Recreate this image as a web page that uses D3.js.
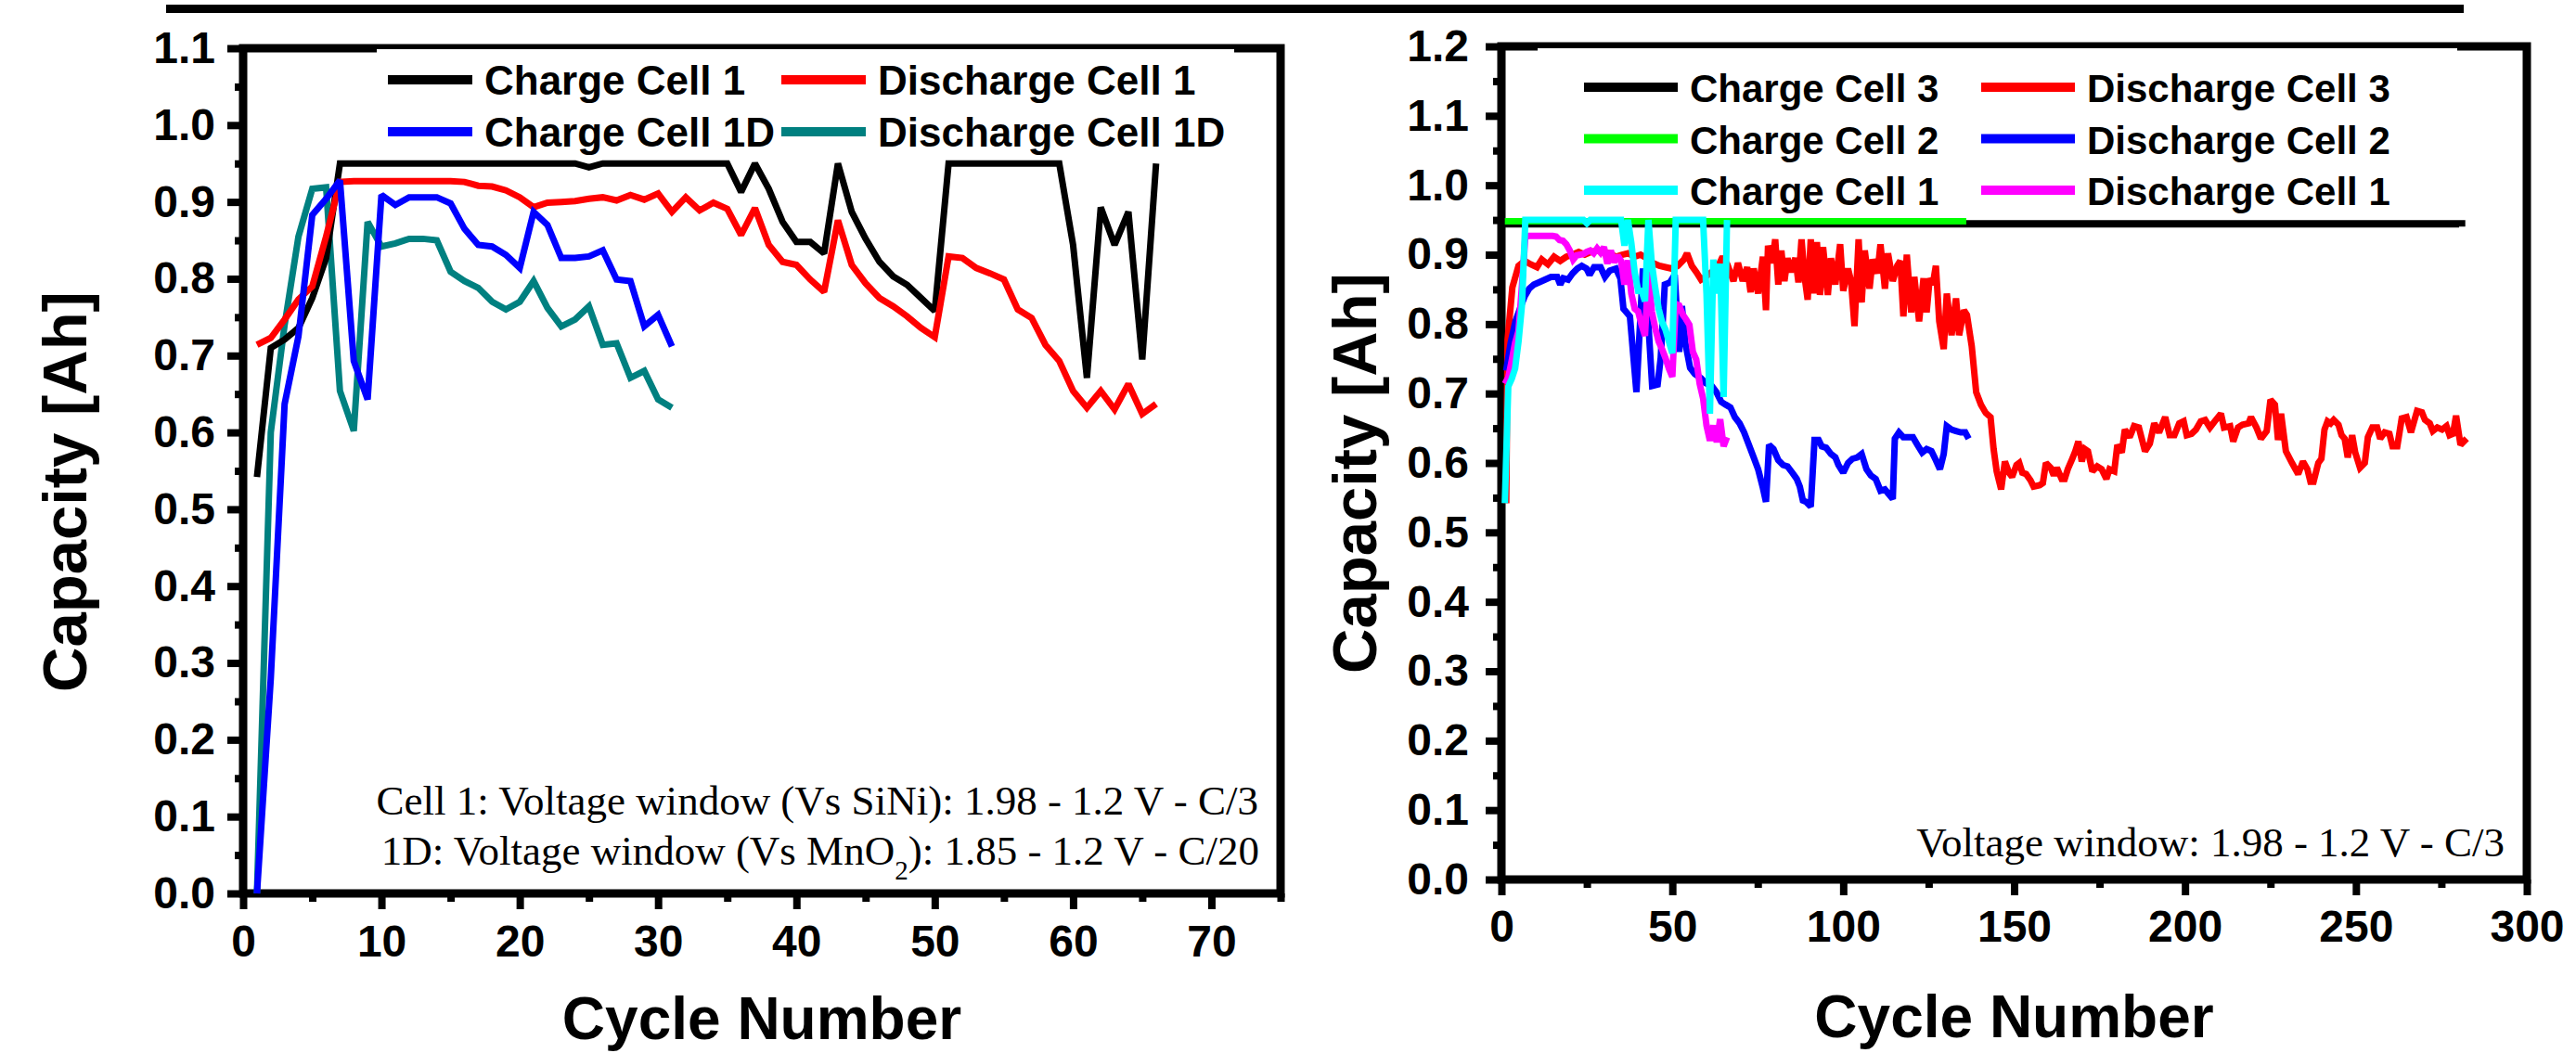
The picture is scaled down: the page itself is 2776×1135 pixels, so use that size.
<!DOCTYPE html>
<html>
<head>
<meta charset="utf-8">
<script src="https://cdn.jsdelivr.net/npm/d3@7"></script>
<style>
  body { margin: 0; background: #fff; }
  svg { display: block; }
  .bold { font-family: "Liberation Sans", Arial, sans-serif; font-weight: bold; }
  .serif { font-family: "Liberation Serif", "Times New Roman", serif; }
</style>
</head>
<body>
<svg id="chart" width="2776" height="1135"></svg>
<script>

/// Data

// Cell 1, one value per cycle starting at cycle 1 (used in both panels)
var cell1Charge = [0.542, 0.71, 0.721, 0.736, 0.775, 0.827,
  0.95, 0.95, 0.95, 0.95, 0.95, 0.95, 0.95, 0.95, 0.95, 0.95, 0.95, 0.95, 0.95, 0.95, 0.95, 0.95, 0.95, 0.95,
  0.945, 0.95, 0.95, 0.95, 0.95, 0.95, 0.95, 0.95, 0.95, 0.95, 0.95,
  0.913, 0.95, 0.917, 0.874, 0.848, 0.848, 0.833, 0.95, 0.887, 0.852, 0.822, 0.803, 0.792, 0.775, 0.758,
  0.95, 0.95, 0.95, 0.95, 0.95, 0.95, 0.95, 0.95, 0.95,
  0.844, 0.671, 0.893, 0.844, 0.887, 0.695, 0.95];

var cell1Discharge = [0.714, 0.723, 0.747, 0.773, 0.79, 0.855, 0.926, 0.927, 0.927, 0.927,
  0.927, 0.927, 0.927, 0.927, 0.927, 0.926, 0.921, 0.92, 0.915, 0.906,
  0.893, 0.899, 0.9, 0.901, 0.904, 0.906, 0.902, 0.909, 0.903, 0.911,
  0.887, 0.906, 0.889, 0.899, 0.891, 0.857, 0.892, 0.844, 0.822, 0.818,
  0.799, 0.783, 0.876, 0.818, 0.794, 0.775, 0.764, 0.751, 0.736, 0.724,
  0.829, 0.827, 0.814, 0.807, 0.799, 0.76, 0.749, 0.714, 0.693, 0.654,
  0.632, 0.654, 0.63, 0.663, 0.624, 0.637];

// Cell 1D, one value per cycle starting at cycle 1
var cell1DCharge = [0, 0.28, 0.637, 0.725, 0.883, 0.904, 0.928, 0.693, 0.643, 0.909,
  0.896, 0.906, 0.906, 0.906, 0.898, 0.865, 0.844, 0.842, 0.831, 0.814,
  0.887, 0.87, 0.827, 0.827, 0.829, 0.837, 0.799, 0.797, 0.738, 0.753, 0.712];

var cell1DDischarge = [0, 0.60, 0.74, 0.855, 0.917, 0.919, 0.654, 0.602, 0.874, 0.842,
  0.846, 0.852, 0.852, 0.85, 0.809, 0.797, 0.788, 0.77, 0.76, 0.77,
  0.797, 0.762, 0.738, 0.747, 0.764, 0.714, 0.716, 0.671, 0.68, 0.643, 0.632];

// Cells 2 and 3: cycle numbers and values at the line's turning points
var cell3ChargeCycles = [1, 282];
var cell3ChargeValues = [0.945, 0.945];

var cell2ChargeCycles = [1, 136];
var cell2ChargeValues = [0.948, 0.948];

var cell3DischargeCycles = [1.4, 1.8, 3.2, 5.0, 6.8, 8.6, 10.4, 11.8, 13.6, 15.4, 17.2, 19.0, 20.8, 22.6, 24.4,
  26.2, 28.0, 29.9, 31.7, 33.5, 35.3, 37.1, 38.9, 40.7, 42.5, 44.3, 46.2, 48.0, 49.8, 51.6,
  53.4, 54.3, 55.7, 57.0, 58.4, 59.7, 61.5, 63.3, 64.7, 66.1, 67.9, 69.2, 70.6, 71.9, 72.9,
  73.8, 75.1, 76.5, 77.4, 78.0, 79.2, 80.1, 81.0, 81.9, 82.8, 83.7, 84.6, 86.0, 86.9, 87.8,
  88.7, 89.6, 90.5, 91.4, 92.3, 93.2, 94.1, 95.5, 96.4, 97.7, 99.1, 100.0, 101.4, 102.3, 103.3,
  104.5, 105.4, 106.3, 107.7, 108.6, 110.0, 110.9, 112.2, 113.1, 114.5, 115.8, 116.7, 117.6, 118.6, 119.9,
  120.8, 122.2, 123.5, 124.4, 125.3, 126.2, 127.1, 128.1, 129.4, 130.3, 131.7, 133.0, 133.9, 135.3, 136.2,
  137.6, 138.9, 140.3, 141.7, 143.1, 144.0, 144.9, 146.2, 147.3, 148.5, 149.4, 150.7, 151.5, 152.4, 153.5,
  154.8, 155.7, 157.5, 158.4, 159.3, 160.7, 161.6, 162.5, 163.9, 164.8, 165.7, 167.0, 167.9, 168.8, 169.8,
  170.7, 171.6, 172.9, 174.3, 175.6, 177.0, 177.9, 179.3, 180.2, 181.5, 182.4, 183.8, 185.1, 186.5, 188.3,
  189.7, 191.0, 192.4, 194.2, 195.5, 196.9, 198.3, 199.6, 200.5, 201.9, 203.2, 204.6, 205.9, 207.3, 208.7,
  210.5, 211.4, 213.2, 214.1, 215.5, 216.8, 218.6, 219.3, 220.9, 222.2, 223.9, 225.0, 226.3, 227.2, 228.1,
  229.5, 231.3, 233.1, 234.5, 235.8, 236.7, 237.6, 239.0, 239.9, 240.8, 241.7, 242.6, 243.5, 244.9, 245.8,
  246.7, 247.6, 248.9, 249.8, 251.2, 252.6, 253.5, 254.8, 256.2, 257.1, 258.4, 259.8, 260.7, 262.1, 263.4,
  264.8, 266.1, 267.9, 269.3, 270.2, 271.6, 272.5, 273.8, 275.2, 276.5, 277.4, 278.4, 279.3, 280.6, 282.4];
var cell3DischargeValues = [0.542, 0.777, 0.853, 0.884, 0.891, 0.886, 0.882, 0.893, 0.886, 0.897, 0.891, 0.897, 0.900, 0.904, 0.900,
  0.904, 0.906, 0.904, 0.902, 0.897, 0.900, 0.902, 0.897, 0.900, 0.895, 0.888, 0.884, 0.882, 0.880, 0.884,
  0.893, 0.902, 0.884, 0.875, 0.864, 0.868, 0.875, 0.882, 0.897, 0.886, 0.862, 0.888, 0.862, 0.882, 0.846,
  0.880, 0.844, 0.897, 0.820, 0.913, 0.888, 0.922, 0.857, 0.906, 0.862, 0.895, 0.875, 0.895, 0.860, 0.922,
  0.868, 0.835, 0.922, 0.844, 0.918, 0.842, 0.911, 0.842, 0.895, 0.857, 0.915, 0.848, 0.880, 0.862, 0.797,
  0.922, 0.831, 0.906, 0.851, 0.893, 0.873, 0.915, 0.851, 0.902, 0.862, 0.884, 0.891, 0.811, 0.900, 0.817,
  0.868, 0.804, 0.866, 0.817, 0.866, 0.857, 0.884, 0.804, 0.764, 0.844, 0.784, 0.837, 0.784, 0.820, 0.813,
  0.768, 0.702, 0.684, 0.672, 0.666, 0.620, 0.588, 0.562, 0.602, 0.586, 0.580, 0.597, 0.600, 0.586, 0.584,
  0.575, 0.566, 0.568, 0.571, 0.600, 0.593, 0.582, 0.593, 0.577, 0.577, 0.591, 0.606, 0.617, 0.631, 0.602,
  0.620, 0.617, 0.588, 0.595, 0.591, 0.577, 0.591, 0.588, 0.626, 0.615, 0.648, 0.637, 0.653, 0.651, 0.617,
  0.628, 0.657, 0.644, 0.666, 0.640, 0.640, 0.657, 0.660, 0.640, 0.642, 0.648, 0.660, 0.662, 0.651, 0.660,
  0.671, 0.651, 0.653, 0.631, 0.651, 0.655, 0.657, 0.666, 0.651, 0.635, 0.646, 0.691, 0.684, 0.633, 0.671,
  0.617, 0.600, 0.584, 0.602, 0.591, 0.573, 0.573, 0.600, 0.606, 0.648, 0.660, 0.657, 0.662, 0.655, 0.640,
  0.635, 0.608, 0.640, 0.615, 0.593, 0.600, 0.637, 0.651, 0.651, 0.635, 0.644, 0.642, 0.624, 0.624, 0.664,
  0.666, 0.644, 0.675, 0.673, 0.662, 0.657, 0.646, 0.651, 0.648, 0.653, 0.640, 0.642, 0.668, 0.626, 0.635];

var cell2DischargeCycles = [1.4, 2.7, 4.1, 5.4, 6.8, 8.1, 9.5, 10.9, 12.7, 14.5, 16.3, 17.2, 18.1, 19.5, 20.8,
  22.2, 23.5, 24.9, 25.8, 27.1, 29.0, 30.3, 31.7, 33.5, 34.8, 35.7, 37.6, 39.5, 41.4, 43.0,
  44.1, 45.7, 46.6, 47.8, 49.3, 50.7, 52.0, 52.8, 53.8, 55.2, 56.6, 58.4, 59.7, 61.5, 62.9,
  64.3, 65.6, 67.0, 68.3, 69.7, 71.0, 72.4, 73.8, 75.1, 76.5, 77.4, 78.3, 79.6, 81.0, 82.4,
  83.7, 85.1, 86.4, 87.3, 88.2, 89.1, 90.5, 91.6, 92.8, 93.7, 95.0, 96.4, 97.7, 98.6, 100.0,
  101.4, 102.7, 104.1, 105.4, 106.8, 108.1, 109.5, 110.9, 112.2, 114.5, 115.1, 116.3, 117.6, 119.0, 120.4,
  121.7, 123.1, 124.4, 125.8, 127.1, 128.3, 129.4, 130.3, 131.7, 133.0, 134.4, 135.7, 136.7];
var cell2DischargeValues = [0.733, 0.773, 0.804, 0.822, 0.840, 0.851, 0.857, 0.860, 0.864, 0.868, 0.868, 0.857, 0.866, 0.864, 0.873,
  0.880, 0.884, 0.880, 0.871, 0.882, 0.882, 0.868, 0.877, 0.880, 0.866, 0.822, 0.811, 0.702, 0.880, 0.800,
  0.711, 0.713, 0.751, 0.857, 0.860, 0.871, 0.760, 0.826, 0.773, 0.737, 0.728, 0.722, 0.715, 0.711, 0.702,
  0.688, 0.684, 0.680, 0.666, 0.657, 0.644, 0.626, 0.608, 0.591, 0.564, 0.544, 0.626, 0.620, 0.604, 0.597,
  0.595, 0.586, 0.577, 0.566, 0.546, 0.544, 0.537, 0.633, 0.633, 0.624, 0.622, 0.613, 0.608, 0.597, 0.586,
  0.600, 0.606, 0.608, 0.613, 0.591, 0.582, 0.577, 0.560, 0.562, 0.548, 0.635, 0.644, 0.637, 0.637, 0.637,
  0.626, 0.615, 0.620, 0.617, 0.604, 0.591, 0.613, 0.653, 0.648, 0.646, 0.644, 0.644, 0.635];

// Tick labels
var leftXTicks = [0, 10, 20, 30, 40, 50, 60, 70];
var leftYTicks = [0, 0.1, 0.2, 0.3, 0.4, 0.5, 0.6, 0.7, 0.8, 0.9, 1.0, 1.1];
var rightXTicks = [0, 50, 100, 150, 200, 250, 300];
var rightYTicks = [0, 0.1, 0.2, 0.3, 0.4, 0.5, 0.6, 0.7, 0.8, 0.9, 1.0, 1.1, 1.2];


/// Helpers

var svg = d3.select("#chart");

function perCycle(values){
	return values.map(function(v, i){ return [i + 1, v]; });
}

function styleAxis(g, fontSize){
	g.select(".domain").remove();
	g.selectAll(".tick line").attr("stroke", "#000").attr("stroke-width", 8);
	g.selectAll(".tick text").attr("class", "bold").attr("fill", "#000").style("font-size", fontSize + "px");
}

function drawPanel(p){
	var x = d3.scaleLinear().domain(p.xDomain).range([p.left, p.right]);
	var y = d3.scaleLinear().domain(p.yDomain).range([p.bottom, p.top]);
	var g = svg.append("g");

	// minor ticks
	g.append("g").attr("transform", "translate(0," + p.bottom + ")")
		.call(d3.axisBottom(x).tickValues(p.xMinor).tickSize(9).tickFormat(""))
		.call(styleAxis, 48);
	g.append("g").attr("transform", "translate(" + p.left + ",0)")
		.call(d3.axisLeft(y).tickValues(p.yMinor).tickSize(9).tickFormat(""))
		.call(styleAxis, 48);

	// major ticks
	g.append("g").attr("transform", "translate(0," + p.bottom + ")")
		.call(d3.axisBottom(x).tickValues(p.xTicks).tickSize(17).tickPadding(p.xPad))
		.call(styleAxis, 48);
	g.append("g").attr("transform", "translate(" + p.left + ",0)")
		.call(d3.axisLeft(y).tickValues(p.yTicks).tickSize(17).tickPadding(p.yPad).tickFormat(d3.format(".1f")))
		.call(styleAxis, 48);

	// frame
	g.append("rect")
		.attr("x", p.left).attr("y", p.top)
		.attr("width", p.right - p.left).attr("height", p.bottom - p.top)
		.attr("fill", "none").attr("stroke", "#000").attr("stroke-width", 9);

	// legend background box
	g.append("rect")
		.attr("x", p.legendBox[0]).attr("y", p.legendBox[1])
		.attr("width", p.legendBox[2]).attr("height", p.legendBox[3])
		.attr("fill", "#fff");
	if(p.legendRule){
		g.append("line")
			.attr("x1", p.legendRule[0]).attr("x2", p.legendRule[1])
			.attr("y1", p.legendRule[2]).attr("y2", p.legendRule[2])
			.attr("stroke", "#000").attr("stroke-width", 2.5);
	}

	// series
	var line = d3.line().x(function(d){ return x(d[0]); }).y(function(d){ return y(d[1]); });
	p.series.forEach(function(s){
		g.append("path")
			.datum(s.points)
			.attr("d", line)
			.attr("fill", "none")
			.attr("stroke", s.color)
			.attr("stroke-width", 7)
			.attr("stroke-linejoin", "miter")
			.attr("stroke-miterlimit", 2);
	});

	// legend entries
	p.legend.forEach(function(item, i){
		var col = i % 2, row = Math.floor(i / 2);
		var lx = p.legendCols[col], ly = p.legendRowY + row * p.legendRowGap;
		g.append("line")
			.attr("x1", lx).attr("x2", lx + p.legendLineLen)
			.attr("y1", ly).attr("y2", ly)
			.attr("stroke", item.color).attr("stroke-width", 10);
		g.append("text")
			.attr("class", "bold")
			.attr("x", lx + p.legendLineLen + 13)
			.attr("y", ly + 16)
			.style("font-size", p.legendFont + "px")
			.text(item.label);
	});

	// axis titles
	g.append("text").attr("class", "bold")
		.attr("text-anchor", "middle")
		.attr("x", (p.left + p.right) / 2).attr("y", p.xTitleY)
		.style("font-size", "64px")
		.text("Cycle Number");
	g.append("text").attr("class", "bold")
		.attr("text-anchor", "middle")
		.attr("transform", "translate(" + p.yTitleX + "," + p.yTitleY + ") rotate(-90)")
		.style("font-size", "67px")
		.text("Capacity [Ah]");

	return g;
}


/// Top rule

svg.append("line")
	.attr("x1", 179).attr("x2", 2655)
	.attr("y1", 9.5).attr("y2", 9.5)
	.attr("stroke", "#000").attr("stroke-width", 9);


/// Left panel

var left = drawPanel({
	left: 262, right: 1380, top: 52, bottom: 963,
	xDomain: [0, 75], yDomain: [0, 1.1],
	xTicks: leftXTicks, yTicks: leftYTicks,
	xMinor: [5, 15, 25, 35, 45, 55, 65, 75],
	yMinor: [0.05, 0.15, 0.25, 0.35, 0.45, 0.55, 0.65, 0.75, 0.85, 0.95, 1.05],
	xPad: 17, yPad: 13,
	legendBox: [406, 53, 924, 105],
	legendRule: null,
	series: [
		{color: "#008080", points: perCycle(cell1DDischarge)},
		{color: "#000000", points: perCycle(cell1Charge)},
		{color: "#ff0000", points: perCycle(cell1Discharge)},
		{color: "#0000ff", points: perCycle(cell1DCharge)}
	],
	legend: [
		{label: "Charge Cell 1", color: "#000000"},
		{label: "Discharge Cell 1", color: "#ff0000"},
		{label: "Charge Cell 1D", color: "#0000ff"},
		{label: "Discharge Cell 1D", color: "#008080"}
	],
	legendCols: [418, 842], legendRowY: 86, legendRowGap: 56, legendLineLen: 91, legendFont: 44,
	xTitleY: 1120, yTitleX: 93, yTitleY: 530
});

var note1 = left.append("text").attr("class", "serif")
	.attr("text-anchor", "end").attr("x", 1356).attr("y", 878)
	.style("font-size", "45px")
	.text("Cell 1: Voltage window (Vs SiNi): 1.98 - 1.2 V - C/3");
var note2 = left.append("text").attr("class", "serif")
	.attr("text-anchor", "end").attr("x", 1357).attr("y", 932)
	.style("font-size", "45px");
note2.append("tspan").text("1D: Voltage window (Vs MnO");
note2.append("tspan").attr("baseline-shift", "sub").style("font-size", "29px").text("2");
note2.append("tspan").text("): 1.85 - 1.2 V - C/20");


/// Right panel

var right = drawPanel({
	left: 1618, right: 2723, top: 50, bottom: 948,
	xDomain: [0, 300], yDomain: [0, 1.2],
	xTicks: rightXTicks, yTicks: rightYTicks,
	xMinor: [25, 75, 125, 175, 225, 275],
	yMinor: [0.05, 0.15, 0.25, 0.35, 0.45, 0.55, 0.65, 0.75, 0.85, 0.95, 1.05, 1.15],
	xPad: 16, yPad: 18,
	legendBox: [1657, 52, 991, 191],
	legendRule: [1622, 2650, 244],
	series: [
		{color: "#000000", points: d3.zip(cell3ChargeCycles, cell3ChargeValues)},
		{color: "#00ff00", points: d3.zip(cell2ChargeCycles, cell2ChargeValues)},
		{color: "#ff0000", points: d3.zip(cell3DischargeCycles, cell3DischargeValues)},
		{color: "#0000ff", points: d3.zip(cell2DischargeCycles, cell2DischargeValues)},
		{color: "#ff00ff", points: perCycle(cell1Discharge)},
		{color: "#00ffff", points: perCycle(cell1Charge)}
	],
	legend: [
		{label: "Charge Cell 3", color: "#000000"},
		{label: "Discharge Cell 3", color: "#ff0000"},
		{label: "Charge Cell 2", color: "#00ff00"},
		{label: "Discharge Cell 2", color: "#0000ff"},
		{label: "Charge Cell 1", color: "#00ffff"},
		{label: "Discharge Cell 1", color: "#ff00ff"}
	],
	legendCols: [1707, 2135], legendRowY: 94, legendRowGap: 55.5, legendLineLen: 101, legendFont: 42,
	xTitleY: 1118, yTitleX: 1483, yTitleY: 510
});

right.append("text").attr("class", "serif")
	.attr("text-anchor", "end").attr("x", 2699).attr("y", 923)
	.style("font-size", "45px")
	.text("Voltage window: 1.98 - 1.2 V - C/3");

</script>
</body>
</html>
